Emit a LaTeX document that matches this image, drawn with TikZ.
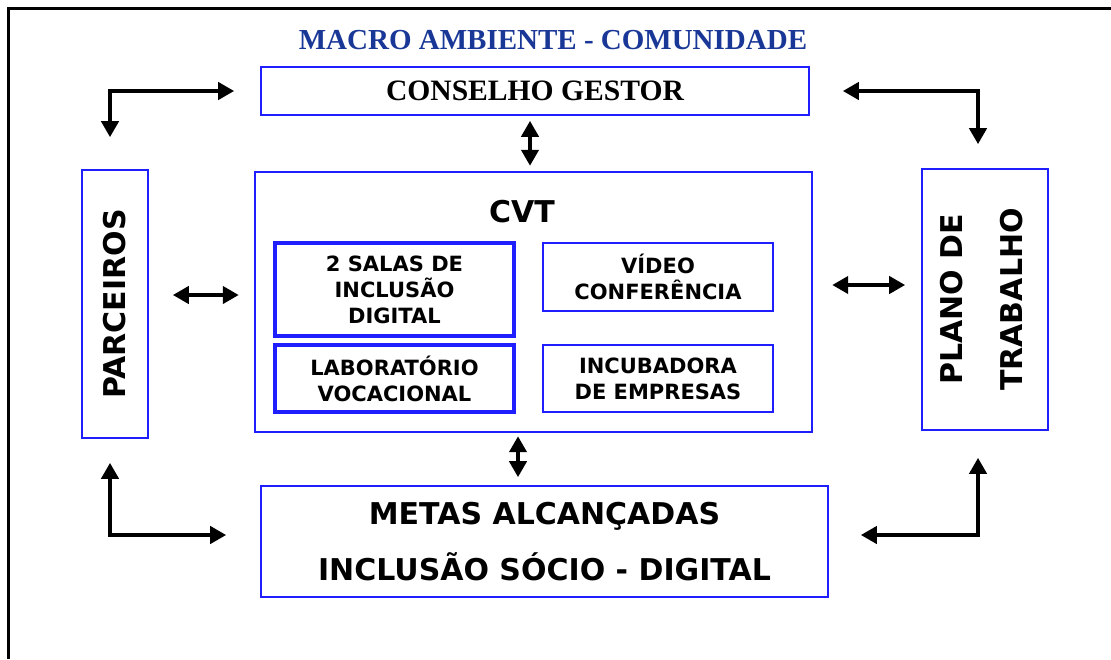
\documentclass[tikz,border=0pt]{standalone}
\usepackage{fontspec}
\setmainfont{Liberation Serif}
\newfontfamily\verdfont{DejaVu Sans}
\usetikzlibrary{arrows.meta}
\usetikzlibrary{positioning}
\definecolor{boxblue}{RGB}{30,30,255}
\definecolor{titlenavy}{RGB}{25,55,150}

\begin{document}
\begin{tikzpicture}[x=0.5pt, y=-0.5pt,
    box/.style={rectangle, draw=boxblue, line width=0.8pt, inner sep=0pt, text centered, font=\verdfont\bfseries\fontsize{15}{18}\selectfont},
    inbox/.style={box, line width=1.3pt, align=center, font=\verdfont\bfseries\fontsize{10.5}{13}\selectfont},
    link/.style={line width=2pt, >={Triangle[width=8.5pt,length=8pt]}, <->}]
    \useasboundingbox (0,0) rectangle (1111,659);

    % Frame
    \draw[line width=1.5pt] (8,659) -- (8,8) -- (1111,8);

    % Title
    \node[font=\bfseries\fontsize{14.5}{17}\selectfont, text=titlenavy] (title) at (553,40) {MACRO AMBIENTE - COMUNIDADE};

    % Conselho
    \node[box, minimum width=274pt, minimum height=24pt, font=\bfseries\fontsize{14.8}{18}\selectfont] (conselho) at (535,91) {CONSELHO GESTOR};

    % Side boxes
    \node[box, minimum width=33pt, minimum height=134pt] (parceiros) at (115,304) {\rotatebox{90}{PARCEIROS}};
    \node[box, minimum width=63pt, minimum height=130.5pt] (plano) at (985,299.5) {\rotatebox{90}{\begin{tabular}{@{}c@{}}PLANO DE\\[12pt]TRABALHO\end{tabular}}};

    % CVT
    \node[box, line width=1.2pt, minimum width=278.5pt, minimum height=130pt] (cvt) at (533.5,302) {};
    \node[font=\verdfont\bfseries\fontsize{15}{18}\selectfont] (cvtlabel) at (522,212) {CVT};
    \node[inbox, line width=2pt, minimum width=119.5pt, minimum height=46.5pt] (salas) at (394.5,289.5) {2 SALAS DE\\INCLUSÃO\\DIGITAL};
    \node[inbox, minimum width=115pt, minimum height=34pt] (video) at (658,277) {VÍDEO\\CONFERÊNCIA};
    \node[inbox, line width=2pt, minimum width=119.5pt, minimum height=33.5pt] (lab) at (394.5,378.5) {LABORATÓRIO\\VOCACIONAL};
    \node[inbox, minimum width=115pt, minimum height=33.5pt] (incub) at (658,378.5) {INCUBADORA\\DE EMPRESAS};

    % Metas
    \node[box, align=center, minimum width=283.5pt, minimum height=55.5pt] (metas) at (544.5,541.5) {METAS ALCANÇADAS\\[10pt]INCLUSÃO SÓCIO - DIGITAL};

    % Arrows
    \draw[link, shorten <=2.5pt, shorten >=2.5pt] ([xshift=-2.5pt]conselho.south) -- ([xshift=-2.5pt]conselho.south |- cvt.north);
    \draw[link, shorten <=1.5pt, shorten >=4pt] ([xshift=-7.75pt]cvt.south) -- ([xshift=-7.75pt]cvt.south |- metas.north);
    \draw[link, shorten <=12pt, shorten >=7.5pt] ([yshift=4.5pt]parceiros.east) -- ([yshift=4.5pt]parceiros.east -| cvt.west);
    \draw[link, shorten <=9.5pt, shorten >=8pt] ([yshift=8.5pt]cvt.east) -- ([yshift=8.5pt]cvt.east -| plano.west);

    \draw[link, shorten <=13pt, shorten >=16pt] (conselho.west) -| ([xshift=-2.5pt]parceiros.north);
    \draw[link, shorten <=16.5pt, shorten >=12pt] (conselho.east) -| ([xshift=-3.5pt]plano.north);
    \draw[link, shorten <=12pt, shorten >=17pt] ([xshift=-2.5pt]parceiros.south) |- ([yshift=3.25pt]metas.west);
    \draw[link, shorten <=13.5pt, shorten >=16pt] ([xshift=-3.5pt]plano.south) |- ([yshift=3.25pt]metas.east);

\end{tikzpicture}
\end{document}
